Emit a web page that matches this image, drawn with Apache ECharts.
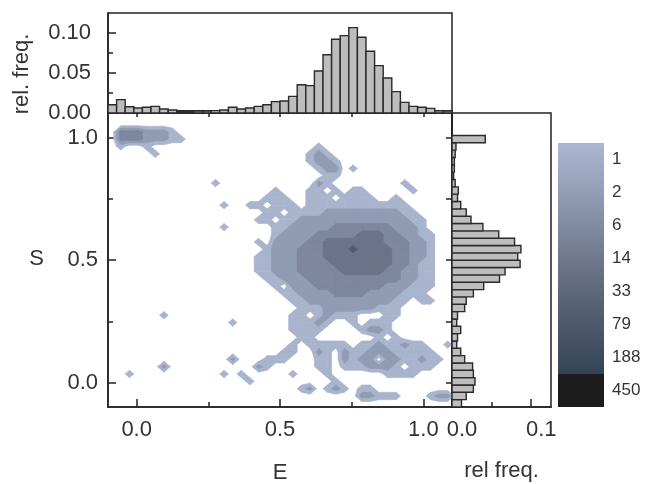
<!DOCTYPE html>
<html><head><meta charset="utf-8">
<script src="https://cdn.jsdelivr.net/npm/echarts@6/dist/echarts.min.js"></script>
<style>html,body{margin:0;padding:0;background:#fff}#c{width:647px;height:484px}</style>
</head><body><div id="c"></div>
<script>
// ---------------- DATA ----------------
// bin centres (shared by E and S)
const binCenters = [-0.085,-0.055,-0.025,0.005,0.035,0.065,0.095,0.125,0.155,0.185,
  0.215,0.245,0.275,0.305,0.335,0.365,0.395,0.425,0.455,0.485,
  0.515,0.545,0.575,0.605,0.635,0.665,0.695,0.725,0.755,0.785,
  0.815,0.845,0.875,0.905,0.935,0.965,0.995,1.025,1.055,1.085];
// relative frequency along E (top histogram)
const topFreq = [0.0104,0.0167,0.0079,0.0063,0.0071,0.0083,0.0050,0.0038,0.0017,0.0013,
  0.0025,0.0025,0.0030,0.0038,0.0071,0.0050,0.0063,0.0083,0.0104,0.0142,
  0.0150,0.0208,0.0354,0.0342,0.0525,0.0729,0.0921,0.0967,0.1067,0.0946,
  0.0771,0.0592,0.0438,0.0267,0.0133,0.0083,0.0071,0.0058,0.0029,0.0025];
// relative frequency along S (right histogram), from S=-0.085 upwards
const rightFreq = [0.012,0.018,0.027,0.029,0.027,0.026,0.016,0.011,0.006,0.007,
  0.011,0.006,0.007,0.016,0.018,0.027,0.040,0.060,0.067,0.086,
  0.083,0.087,0.079,0.059,0.039,0.024,0.018,0.011,0.007,0.008,
  0.004,0.002,0.003,0.003,0.004,0.005,0.042,0,0,0];
// contour level per bin (rows: S from high to low, columns: E from low to high)
const contourRows = [
"0000000000000000000000000000000000000000",
"0000000000000000000000000000000000000000",
"0333222100000000000000000000000000000000",
"0333222110000000000000000000000000000000",
"0100100000000000000000001000000000000000",
"0000010000000000000000012100000000000000",
"0000000000000000000000012210000000000000",
"0000000000000000000000001220100000000000",
"0000000000000000000000000110000000000000",
"0000000000001000000000002100000000100000",
"0000000000000000000100011010110000010000",
"0000000000000000001110011101111001000000",
"0000000000000100110111011111111111100000",
"0000000000000000001101111222222222110000",
"0000000000000000011011222222222222211000",
"0000000000000100000112222233333332221000",
"0000000000000000000122223333344433221100",
"0000000000000000010222233444444433322100",
"0000000000000000001222333444544443322100",
"0000000000000000011222333444444443322100",
"0000000000000000011222333344444443321100",
"0000000000000000011222333334444433221100",
"0000000000000000001122233333333333221100",
"0000000000000000000102223333333322211100",
"0000000000000000000011222233332222111000",
"0000000000000000000001122222222221101100",
"0000000000000000000000111222222111000000",
"0000001000000000000001101211100011000000",
"0000000000000010000001112100101110000000",
"0000000000000000000001111000012210000000",
"0000000000000000000000110000000101000000",
"0000000000000000000001011111011211211001",
"0000000000000000000011002102112221111100",
"0000000000000020001110001102122022112110",
"0000002000000000021000001101112221011100",
"0010000000000101000001000100000011110000",
"0000000000000000100000000010000000000000",
"0000000000000000000000120121011000000000",
"0000000000000000000000000000022111000122",
"0000000000000000000000000000000000000000"];
const colorLevels = ['1','2','6','14','33','79','188','450'];
const mainMajorTicks = [0, 0.5, 1.0];
const mainMinorTicks = [0.25, 0.75];
const mainAllTicks = [0, 0.25, 0.5, 0.75, 1.0];
const topMajorTicks = [0, 0.05, 0.10];
const topMinorTicks = [0.025, 0.075];
const rightLabelTicks = [0, 0.1];
const rightMajorTicks = [0.1];
const rightMinorTicks = [0.05];

// ---------------- STYLE ----------------
const FONT = 'Liberation Sans, Arial, sans-serif';
const INK = '#222';
const TXT = '#333';
const levelColors = ['#a8b3cc','#919cb4','#7e879e','#6b738a','#535c72'];
const cbStops = ['#abb7d1','#9ba6bf','#8a94ab','#788197','#676f83','#566073','#455265','#334356'];
const cbLast = '#1c1c1c';
const lineStyle = {color: INK, width: 1.5};

// ---------------- CONTOURS (marching squares over the level grid) ----------------
const R = contourRows.length, C = contourRows[0].length;
const step = binCenters[1] - binCenters[0];
function vAt(r, i) { return (r < 0 || r >= R || i < 0 || i >= C) ? 0 : parseInt(contourRows[r][i], 16); }
function eAt(i) { return i < 0 ? binCenters[0] - step : (i >= C ? binCenters[C - 1] + step : binCenters[i]); }
function sAt(r) { return r < 0 ? binCenters[C - 1] + step : (r >= R ? binCenters[0] - step : binCenters[R - 1 - r]); }
const polys = [];
for (let L = 0; L < 5; L++) {
  const t = L + 0.5;
  for (let r = -1; r < R; r++) {
    for (let i = -1; i < C; i++) {
      const cs = [[r, i], [r, i + 1], [r + 1, i + 1], [r + 1, i]];
      const vs = cs.map(c => vAt(c[0], c[1]));
      if (vs.every(v => v < t)) continue;
      const pts = [];
      for (let k = 0; k < 4; k++) {
        const p = cs[k], q = cs[(k + 1) % 4], vp = vs[k], vq = vs[(k + 1) % 4];
        const P = [eAt(p[1]), sAt(p[0])], Q = [eAt(q[1]), sAt(q[0])];
        if (vp >= t) pts.push(P);
        if ((vp >= t) !== (vq >= t)) {
          const f = (t - vp) / (vq - vp);
          pts.push([P[0] + f * (Q[0] - P[0]), P[1] + f * (Q[1] - P[1])]);
        }
      }
      if (pts.length >= 3) polys.push({L: L, pts: pts});
    }
  }
}

// ---------------- CHART ----------------
const mainYMin = -0.1, mainYMax = 1.11, mainH = 296, rightH = 294;
const rightYMax = mainYMin + (mainYMax - mainYMin) * rightH / mainH;
const txt = {fontSize: 22, color: TXT, fontFamily: FONT};
const gridBase = {containLabel: false, outerBoundsMode: 'none'};

const chart = echarts.init(document.getElementById('c'), null, {renderer: 'canvas'});
chart.setOption({
  animation: false,
  backgroundColor: '#fff',
  grid: [
    Object.assign({left: 108, top: 111, width: 344, height: mainH, show: true, borderColor: INK, borderWidth: 1.5}, gridBase),
    Object.assign({left: 108, top: 13, width: 344, height: 100, show: true, borderColor: INK, borderWidth: 1.5}, gridBase),
    Object.assign({left: 452, top: 407 - rightH, width: 99, height: rightH, show: true, borderColor: INK, borderWidth: 1.5}, gridBase),
    Object.assign({left: 558, top: 143, width: 46, height: 264}, gridBase)
  ],
  xAxis: [
    {gridIndex: 0, type: 'value', min: -0.1, max: 1.1, position: 'bottom',
      axisLine: {show: true, onZero: false, lineStyle},
      axisTick: {show: true, inside: true, length: 8, customValues: mainMajorTicks, lineStyle},
      axisLabel: Object.assign({customValues: mainMajorTicks, formatter: v => v.toFixed(1), margin: 12}, txt),
      splitLine: {show: false},
      name: 'E', nameLocation: 'middle', nameGap: 55, nameTextStyle: txt},
    {gridIndex: 0, type: 'value', min: -0.1, max: 1.1, position: 'bottom',
      axisLine: {show: false, onZero: false},
      axisTick: {show: true, inside: true, length: 5, customValues: mainMinorTicks, lineStyle},
      axisLabel: {show: false}, splitLine: {show: false}},
    {gridIndex: 0, type: 'value', min: -0.1, max: 1.1, position: 'top',
      axisLine: {show: true, onZero: false, lineStyle},
      axisTick: {show: true, inside: true, length: 6, customValues: mainAllTicks, lineStyle},
      axisLabel: {show: false}, splitLine: {show: false}},
    {gridIndex: 1, type: 'value', min: -0.1, max: 1.1, position: 'bottom',
      axisLine: {show: true, onZero: false, lineStyle},
      axisTick: {show: false}, axisLabel: {show: false}, splitLine: {show: false}},
    {gridIndex: 2, type: 'value', min: 0, max: 0.125, position: 'bottom',
      axisLine: {show: true, onZero: false, lineStyle},
      axisTick: {show: true, inside: true, length: 8, customValues: rightMajorTicks, lineStyle},
      axisLabel: Object.assign({customValues: rightLabelTicks, formatter: v => v.toFixed(1), margin: 12, padding: [0, 0, 0, 20]}, txt),
      splitLine: {show: false},
      name: 'rel freq.', nameLocation: 'middle', nameGap: 53, nameTextStyle: txt},
    {gridIndex: 2, type: 'value', min: 0, max: 0.125, position: 'bottom',
      axisLine: {show: false, onZero: false},
      axisTick: {show: true, inside: true, length: 5, customValues: rightMinorTicks, lineStyle},
      axisLabel: {show: false}, splitLine: {show: false}},
    {gridIndex: 3, type: 'value', min: 0, max: 1, show: false}
  ],
  yAxis: [
    {gridIndex: 0, type: 'value', min: mainYMin, max: mainYMax, position: 'left',
      axisLine: {show: true, onZero: false, lineStyle},
      axisTick: {show: true, inside: true, length: 8, customValues: mainMajorTicks, lineStyle},
      axisLabel: Object.assign({customValues: mainMajorTicks, formatter: v => v.toFixed(1), margin: 10}, txt),
      splitLine: {show: false},
      name: 'S', nameLocation: 'middle', nameRotate: 0, nameGap: 64, nameTextStyle: txt},
    {gridIndex: 0, type: 'value', min: mainYMin, max: mainYMax, position: 'left',
      axisLine: {show: false, onZero: false},
      axisTick: {show: true, inside: true, length: 5, customValues: mainMinorTicks, lineStyle},
      axisLabel: {show: false}, splitLine: {show: false}},
    {gridIndex: 0, type: 'value', min: mainYMin, max: mainYMax, position: 'right',
      axisLine: {show: true, onZero: false, lineStyle},
      axisTick: {show: true, inside: true, length: 6, customValues: mainAllTicks, lineStyle},
      axisLabel: {show: false}, splitLine: {show: false}},
    {gridIndex: 1, type: 'value', min: 0, max: 0.125, position: 'left',
      axisLine: {show: true, onZero: false, lineStyle},
      axisTick: {show: true, inside: true, length: 8, customValues: topMajorTicks, lineStyle},
      axisLabel: Object.assign({customValues: topMajorTicks, formatter: v => v.toFixed(2), margin: 17}, txt),
      splitLine: {show: false},
      name: 'rel. freq.', nameLocation: 'middle', nameGap: 75,
      nameTextStyle: Object.assign({padding: [0, 22, 0, 0]}, txt)},
    {gridIndex: 1, type: 'value', min: 0, max: 0.125, position: 'left',
      axisLine: {show: false, onZero: false},
      axisTick: {show: true, inside: true, length: 5, customValues: topMinorTicks, lineStyle},
      axisLabel: {show: false}, splitLine: {show: false}},
    {gridIndex: 2, type: 'value', min: mainYMin, max: rightYMax, position: 'left',
      axisLine: {show: true, onZero: false, lineStyle},
      axisTick: {show: false}, axisLabel: {show: false}, splitLine: {show: false}},
    {gridIndex: 3, type: 'category', data: colorLevels, inverse: true, position: 'right',
      axisLine: {show: false}, axisTick: {show: false},
      axisLabel: {fontSize: 17, color: TXT, fontFamily: FONT, margin: 8}}
  ],
  series: [
    {type: 'custom', name: 'contour', xAxisIndex: 0, yAxisIndex: 0, clip: true, progressive: 0,
      encode: {x: 0, y: 1},
      data: polys.map((p, k) => [p.pts[0][0], p.pts[0][1], k]),
      renderItem: function (params, api) {
        const p = polys[api.value(2)];
        const col = levelColors[p.L];
        return {type: 'polygon', shape: {points: p.pts.map(q => api.coord(q))},
          style: {fill: col, stroke: col, lineWidth: 0.6}};
      }},
    {type: 'custom', name: 'topHist', xAxisIndex: 3, yAxisIndex: 3, progressive: 0,
      encode: {x: 0, y: 1},
      data: binCenters.map((e, k) => [e, topFreq[k]]),
      renderItem: function (params, api) {
        const x = api.value(0), v = api.value(1);
        if (!v) return null;
        const p0 = api.coord([x - step / 2, v]), p1 = api.coord([x + step / 2, 0]);
        return {type: 'rect', shape: {x: p0[0], y: p0[1], width: p1[0] - p0[0], height: p1[1] - p0[1]},
          style: {fill: '#bdbdbd', stroke: '#2a2a2a', lineWidth: 1.4}};
      }},
    {type: 'custom', name: 'rightHist', xAxisIndex: 4, yAxisIndex: 5, progressive: 0,
      encode: {x: 0, y: 1},
      data: binCenters.map((s, k) => [rightFreq[k], s]),
      renderItem: function (params, api) {
        const v = api.value(0), s = api.value(1);
        if (!v) return null;
        const p0 = api.coord([0, s + step / 2]), p1 = api.coord([v, s - step / 2]);
        return {type: 'rect', shape: {x: p0[0], y: p0[1], width: p1[0] - p0[0], height: p1[1] - p0[1]},
          style: {fill: '#bdbdbd', stroke: '#2a2a2a', lineWidth: 1.4}};
      }},
    {type: 'bar', name: 'colorbar', xAxisIndex: 6, yAxisIndex: 6, barCategoryGap: '0%',
      data: colorLevels.map((lab, k) => ({
        value: 1,
        itemStyle: {color: k < colorLevels.length - 1 ? {
          type: 'linear', x: 0, y: 0, x2: 0, y2: 1,
          colorStops: [{offset: 0, color: cbStops[k]}, {offset: 1, color: cbStops[k + 1]}]
        } : cbLast}
      }))}
  ]
});
</script></body></html>
